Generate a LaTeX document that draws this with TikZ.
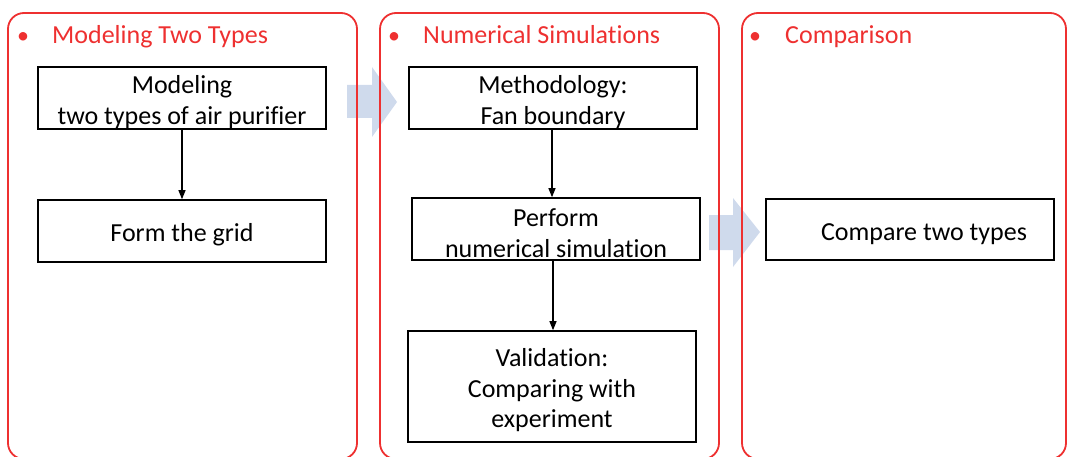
\documentclass[tikz,border=0pt]{standalone}
\usepackage{fontspec}
\setmainfont[Ligatures={NoCommon}]{Carlito}
\usetikzlibrary{arrows.meta}
\definecolor{pred}{RGB}{238,48,48}
\definecolor{pblue}{RGB}{207,218,236}
\newcommand\pushdn{\rule{0pt}{26pt}}
\begin{document}
\begin{tikzpicture}[x=1pt,y=-1pt,
  panel/.style={draw=pred,line width=1.8pt,rounded corners=16pt},
  box/.style={draw=black,line width=1.6pt,minimum width=288pt,align=center,inner sep=0pt,
    font=\fontsize{26}{30.5}\selectfont},
  title/.style={anchor=base west,text=pred,inner sep=0pt,font=\fontsize{26}{30}\selectfont},
  bullet/.style={anchor=base,text=pred,inner sep=0pt,font=\fontsize{24}{30}\selectfont},
  flow/.style={line width=1.2pt,-{Triangle[width=7pt,length=9pt]}}]
\useasboundingbox (0,0) rectangle (1067,457);
\begin{scope}
\clip (0,0) rectangle (1067,457);
% big block arrows
\fill[pblue] (347,85) -- (372,85) -- (372,67) -- (397,102) -- (372,137) -- (372,118) -- (347,118) -- cycle;
\fill[pblue] (709,215) -- (733,215) -- (733,198) -- (760,232) -- (733,267) -- (733,250) -- (709,250) -- cycle;
% panels
\draw[panel] (8,13) rectangle (357,459);
\draw[panel] (380,13) rectangle (719,459);
\draw[panel] (742,13) rectangle (1066,459);
\end{scope}
% titles
\node[bullet] (u1) at (23,44) {•};
\node[title] (t1) at (52,44) {Modeling Two Types};
\node[bullet] (u2) at (394,44) {•};
\node[title] (t2) at (423,44) {Numerical Simulations};
\node[bullet] (u3) at (755,44) {•};
\node[title] (t3) at (785,44) {Comparison};
% boxes
\node[box,minimum height=62pt] (b1) at (182,98) {\pushdn Modeling\\two types of air purifier};
\node[box,minimum height=62pt] (b2) at (182,231) {\pushdn Form the grid};
\node[box,minimum height=62pt] (b3) at (553,98) {\pushdn Methodology:\\Fan boundary};
\node[box,minimum height=62pt] (b4) at (556,229) {\pushdn Perform\\numerical simulation};
\node[box,minimum height=111pt] (b5) at (552,386.5) {\pushdn Validation:\\Comparing with\\experiment};
\node[box,minimum height=61pt] (b6) at (910,229.5) {\pushdn\hspace*{28pt}Compare two types};
% connectors
\draw[flow] (b1.south) -- (b2.north);
\draw[flow] (b3.south -| 552,0) -- (b4.north -| 552,0);
\draw[flow] (b4.south -| 553,0) -- (b5.north -| 553,0);
\end{tikzpicture}
\end{document}
